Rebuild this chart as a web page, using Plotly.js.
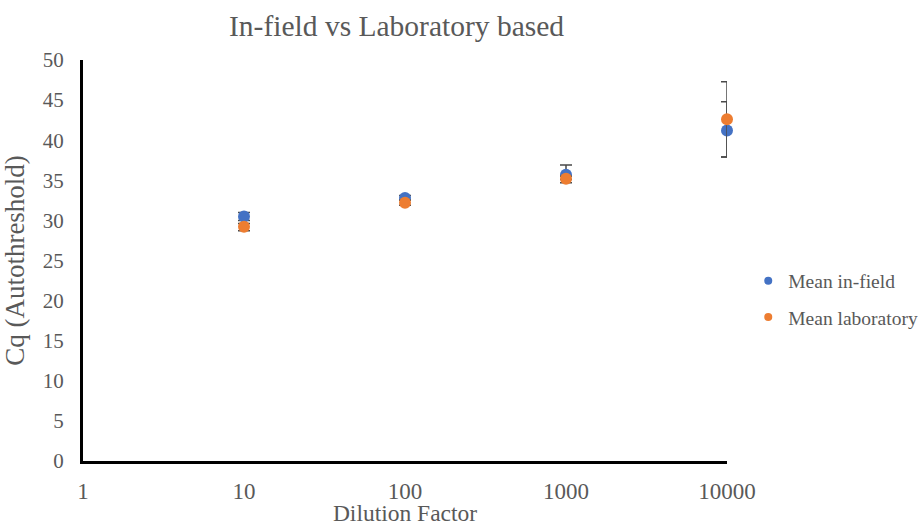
<!DOCTYPE html>
<html>
<head>
<meta charset="utf-8">
<script src="https://cdn.plot.ly/plotly-3.0.1.min.js"></script>
<style>html,body{margin:0;padding:0;background:#fff;}#chart{width:918px;height:526px;}</style>
</head>
<body>
<div id="chart"></div>
<script>
const dilution = [10, 100, 1000, 10000];
const meanInField = [30.5, 32.8, 35.7, 41.2];
const inFieldErrPlus = [0.5, 0.3, 1.2, 6.1];
const inFieldErrMinus = [0.5, 0.3, 0.6, 3.3];
const meanLab = [29.2, 32.2, 35.2, 42.6];
const labErrPlus = [0.4, 0.3, 0.3, 2.2];
const labErrMinus = [0.5, 0.3, 0.5, 4.7];
const xTicks = [1, 10, 100, 1000, 10000];
const yTicks = [0, 5, 10, 15, 20, 25, 30, 35, 40, 45, 50];
const seriesNames = ['Mean in-field', 'Mean laboratory'];
const seriesColors = ['#4472C4', '#ED7D31'];

const font = 'Liberation Serif';
const gray = '#595959';

const traces = [
  {
    x: dilution, y: meanInField, name: seriesNames[0], type: 'scatter', mode: 'markers',
    showlegend: false,
    marker: {color: seriesColors[0], size: 12},
    error_y: {type: 'data', symmetric: false, array: inFieldErrPlus, arrayminus: inFieldErrMinus,
      color: '#4a4a4a', thickness: 1.5, width: 6},
    cliponaxis: false
  },
  {
    x: dilution, y: meanLab, name: seriesNames[1], type: 'scatter', mode: 'markers',
    showlegend: false,
    marker: {color: seriesColors[1], size: 12},
    error_y: {type: 'data', symmetric: false, array: labErrPlus, arrayminus: labErrMinus,
      color: '#4a4a4a', thickness: 1.5, width: 6},
    cliponaxis: false
  }
];
seriesNames.forEach((n, i) => traces.push({
  x: [null], y: [null], name: n, type: 'scatter', mode: 'markers', legendgroup: 'g' + i,
  marker: {color: seriesColors[i], size: 8}, hoverinfo: 'skip'
}));

const layout = {
  width: 918, height: 526,
  margin: {l: 83, r: 191, t: 60, b: 65, autoexpand: false},
  paper_bgcolor: '#fff', plot_bgcolor: '#fff',
  font: {family: font, color: gray, size: 20},
  title: {text: 'In-field vs Laboratory based', font: {family: font, size: 29.5, color: gray},
    x: 0.432, xanchor: 'center', y: 0.952, yanchor: 'middle'},
  xaxis: {
    type: 'log', range: [0, 4], tickvals: xTicks, ticktext: xTicks.map(String),
    showgrid: false, zeroline: false, showline: true, linecolor: '#000', linewidth: 3,
    ticks: '', ticklabelstandoff: 7, tickfont: {family: font, size: 23, color: gray},
    title: {text: 'Dilution Factor', font: {family: font, size: 23.5, color: gray}, standoff: 4},
    automargin: false
  },
  yaxis: {
    range: [0, 50], tickvals: yTicks, showgrid: false, zeroline: false,
    showline: true, linecolor: '#000', linewidth: 3, ticks: '',
    ticklabelstandoff: 12, tickfont: {family: font, size: 21, color: gray},
    title: {text: 'Cq (Autothreshold)', font: {family: font, size: 27, color: gray}, standoff: 13},
    automargin: false
  },
  showlegend: true,
  legend: {
    x: 1.033, xanchor: 'left', y: 0.404, yanchor: 'middle',
    font: {family: font, size: 19.5, color: gray},
    tracegroupgap: 8, itemwidth: 30, bgcolor: 'rgba(0,0,0,0)'
  }
};

Plotly.newPlot('chart', traces, layout, {displayModeBar: false, staticPlot: true});
</script>
</body>
</html>
